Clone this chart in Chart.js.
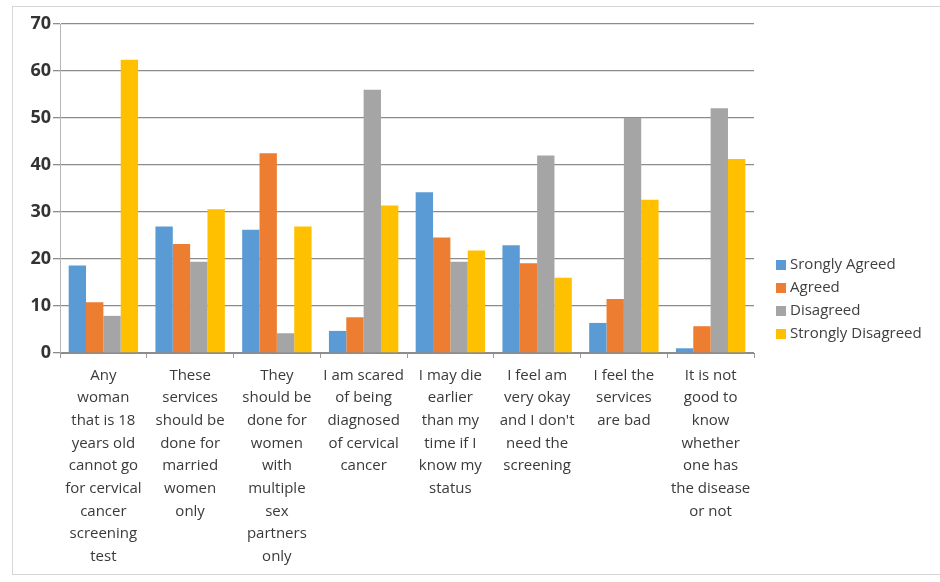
<!DOCTYPE html>
<html>
<head>
<meta charset="utf-8">
<script src="https://cdn.jsdelivr.net/npm/chart.js@4/dist/chart.umd.min.js"></script>
<style>
  html, body { margin: 0; padding: 0; background: #ffffff; }
  #wrap { position: relative; width: 940px; height: 582px; overflow: hidden; }
  #frame { position: absolute; left: 12px; top: 6px; width: 940px; height: 569px;
           border: 1px solid #d6d6d6; box-sizing: border-box; }
  canvas { position: absolute; left: 0; top: 0; }
  #legend { position: absolute; left: 776px; top: 252px; font-family: "Open Sans", sans-serif;
            font-size: 15px; color: #404040; }
  .item { height: 23px; line-height: 23px; white-space: nowrap; }
  .swatch { display: inline-block; width: 10px; height: 10px; margin-right: 4px; vertical-align: -1px; }
</style>
</head>
<body>
<div id="wrap">
  <div id="frame"></div>
  <canvas id="chart" width="940" height="582"></canvas>
  <div id="legend"></div>
</div>
<script>
// Survey statements (x-axis categories), wrapped line by line
const statements = [
  ["Any", "woman", "that is 18", "years old", "cannot go", "for cervical", "cancer", "screening", "test"],
  ["These", "services", "should be", "done for", "married", "women", "only"],
  ["They", "should be", "done for", "women", "with", "multiple", "sex", "partners", "only"],
  ["I am scared", "of being", "diagnosed", "of cervical", "cancer"],
  ["I may die", "earlier", "than my", "time if I", "know my", "status"],
  ["I feel am", "very okay", "and I don't", "need the", "screening"],
  ["I feel the", "services", "are bad"],
  ["It is not", "good to", "know", "whether", "one has", "the disease", "or not"]
];

// Percentage of responses per statement
const stronglyAgreed    = [18.6, 26.9, 26.2, 4.7, 34.2, 22.9, 6.4, 1.0];
const agreed            = [10.8, 23.2, 42.5, 7.6, 24.6, 19.1, 11.5, 5.7];
const disagreed         = [7.9, 19.4, 4.2, 56.0, 19.4, 42.0, 50.0, 52.1];
const stronglyDisagreed = [62.4, 30.6, 26.9, 31.4, 21.8, 16.0, 32.6, 41.3];

const seriesNames = ["Srongly Agreed", "Agreed", "Disagreed", "Strongly Disagreed"];
const seriesColors = ["#5B9BD5", "#ED7D31", "#A5A5A5", "#FFC000"];
const yTicks = [0, 10, 20, 30, 40, 50, 60, 70];

const seriesValues = [stronglyAgreed, agreed, disagreed, stronglyDisagreed];

const chart = new Chart(document.getElementById("chart"), {
  type: "bar",
  data: {
    labels: statements,
    datasets: seriesNames.map((name, i) => ({
      label: name,
      data: seriesValues[i],
      backgroundColor: seriesColors[i],
      borderWidth: 0,
      categoryPercentage: 0.8,
      barPercentage: 1.0
    }))
  },
  options: {
    responsive: false,
    animation: false,
    layout: { padding: { left: 0, right: 186, top: 24, bottom: 0 } },
    plugins: {
      legend: { display: false },
      tooltip: { enabled: false }
    },
    scales: {
      x: {
        afterFit: (s) => { s.height = 229; },
        grid: {
          display: true,
          drawOnChartArea: false,
          drawTicks: true,
          tickLength: 5,
          color: "#9a9a9a",
          offset: true
        },
        border: { display: true, color: "#8c8c8c", width: 1 },
        ticks: {
          autoSkip: false,
          maxRotation: 0,
          padding: 6,
          color: "#3a3a3a",
          font: { family: "'Open Sans', sans-serif", size: 15, lineHeight: 1.513 }
        }
      },
      y: {
        min: 0,
        max: 70,
        afterFit: (s) => { s.width = 60; },
        afterBuildTicks: (s) => { s.ticks = yTicks.map(v => ({ value: v })); },
        grid: {
          color: "#8c8c8c",
          lineWidth: 1.3,
          drawTicks: true,
          tickLength: 7
        },
        border: { display: true, color: "#b5b5b5", width: 1 },
        ticks: {
          padding: 2,
          color: "#333333",
          font: { family: "'Open Sans', sans-serif", size: 18, weight: "bold" }
        }
      }
    }
  }
});

// Legend beside the plot, one row per series
const legend = document.getElementById("legend");
seriesNames.forEach((name, i) => {
  const row = document.createElement("div");
  row.className = "item";
  const sw = document.createElement("span");
  sw.className = "swatch";
  sw.style.background = seriesColors[i];
  row.appendChild(sw);
  row.appendChild(document.createTextNode(name));
  legend.appendChild(row);
});
</script>
</body>
</html>
